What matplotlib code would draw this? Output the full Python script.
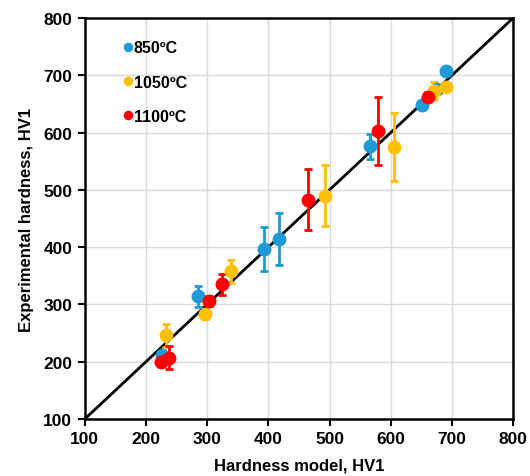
import matplotlib
matplotlib.use("Agg")
import matplotlib.pyplot as plt

plt.rcParams['font.family'] = ['Liberation Sans', 'DejaVu Sans']

# 850 C
x850 = [226, 285, 393, 418, 566, 651, 675, 690]
y850 = [212, 314, 397, 414, 576, 649, 677, 707]
e850 = [5, 18, 38, 45, 22, 6, 5, 0]
# 1050 C
x1050 = [232, 296, 339, 493, 606, 670, 690]
y1050 = [246, 283, 358, 490, 575, 673, 680]
e1050 = [20, 8, 20, 53, 59, 15, 5]
# 1100 C
x1100 = [224, 237, 303, 324, 465, 579, 661]
y1100 = [200, 207, 306, 335, 483, 603, 663]
e1100 = [5, 20, 8, 19, 53, 59, 8]

labels = ["850ºC", "1050ºC", "1100ºC"]
colors = ["#1E9AD6", "#FFC000", "#FF0000"]
ticks = [100, 200, 300, 400, 500, 600, 700, 800]

fig = plt.figure(figsize=(5.30, 4.77), dpi=100)
ax = fig.add_axes([0.160, 0.1195, 0.808, 0.8405])

ax.plot([100, 800], [100, 800], color='black', lw=2, zorder=2)

for xs, ys, es, c, lab in [(x850, y850, e850, colors[0], labels[0]),
                           (x1050, y1050, e1050, colors[1], labels[1]),
                           (x1100, y1100, e1100, colors[2], labels[2])]:
    ax.errorbar(xs, ys, yerr=es, fmt='none', ecolor=c, elinewidth=2,
                capsize=3, capthick=2, zorder=3)
    ax.plot(xs, ys, 'o', color=c, ms=9, zorder=4, label=lab)

ax.set_xlim(100, 800)
ax.set_ylim(100, 800)
ax.set_xticks(ticks)
ax.set_yticks(ticks)
ax.grid(True, color='#d9d9d9', lw=1)
ax.set_axisbelow(True)
for s in ax.spines.values():
    s.set_linewidth(1.8)
    s.set_color('black')
ax.tick_params(direction='out', length=5, width=1.5, labelsize=12.5, pad=4)
for t in ax.get_xticklabels() + ax.get_yticklabels():
    t.set_fontweight('bold')
ax.set_xlabel("Hardness model, HV1", fontsize=12, fontweight='bold', labelpad=8)
ax.set_ylabel("Experimental hardness, HV1", fontsize=12, fontweight='bold', labelpad=7)

leg = ax.legend(loc='upper left', bbox_to_anchor=(0.06, 0.98), frameon=False,
                markerscale=0.65, handlelength=0.4, handletextpad=0.15,
                labelspacing=1.2, prop={'weight': 'bold', 'size': 11.5})

fig.savefig("out.png", dpi=100)
